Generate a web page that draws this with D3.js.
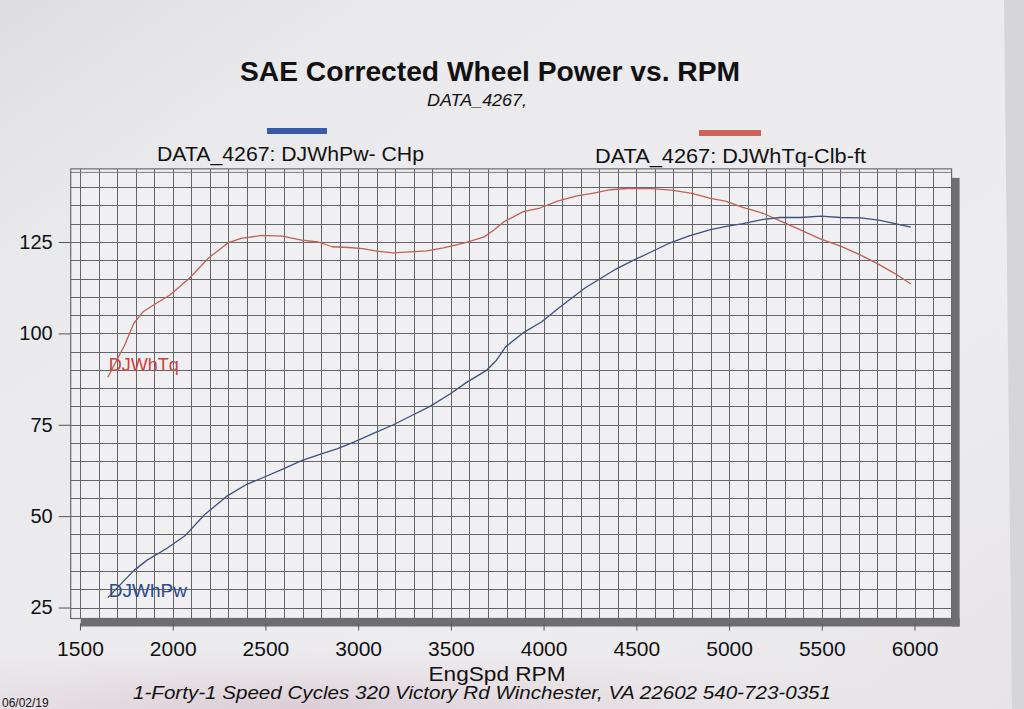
<!DOCTYPE html>
<html>
<head>
<meta charset="utf-8">
<script src="https://cdn.jsdelivr.net/npm/d3@7/dist/d3.min.js"></script>
<style>
  html, body { margin: 0; padding: 0; background: #e9e8ea; }
  svg { display: block; }
  text { font-family: "Liberation Sans", Arial, Helvetica, sans-serif; fill: #111; }
</style>
</head>
<body>
<svg id="chart" width="1024" height="709"></svg>
<script>
// ---------------- data ----------------
const title = "SAE Corrected Wheel Power vs. RPM";
const subtitle = "DATA_4267,";
const seriesNames = ["DATA_4267: DJWhPw- CHp", "DATA_4267: DJWhTq-Clb-ft"];
const curveLabels = ["DJWhPw", "DJWhTq"];
const xAxisTitle = "EngSpd  RPM";
const footer = "1-Forty-1 Speed Cycles 320 Victory Rd Winchester, VA 22602  540-723-0351";
const dateText = "06/02/19";

const xTicks = [1500, 2000, 2500, 3000, 3500, 4000, 4500, 5000, 5500, 6000];
const yTicks = [25, 50, 75, 100, 125];

// Wheel power (CHp)
const rpmPw = [1650, 1720, 1790, 1860, 1965, 2070, 2170, 2290, 2395, 2485, 2590, 2695, 2805, 2890, 2980,
  3085, 3190, 3300, 3390, 3495, 3585, 3690, 3745, 3795, 3885, 3990, 4080, 4225, 4300, 4390, 4480,
  4585, 4675, 4785, 4895, 4985, 5075, 5185, 5275, 5385, 5495, 5600, 5710, 5815, 5980];
const power = [27.7, 31.4, 35.1, 37.9, 41.1, 44.8, 50.3, 55.4, 58.6, 60.5, 62.8, 65.2, 67.1, 68.5, 70.3,
  72.7, 75.0, 77.8, 80.1, 83.4, 86.6, 89.8, 92.6, 96.3, 100.0, 103.2, 106.9, 112.5, 114.8, 117.6, 119.9,
  122.4, 124.6, 126.7, 128.3, 129.3, 130.0, 131.2, 131.7, 131.7, 132.1, 131.7, 131.6, 130.9, 129.1];

// Wheel torque (Clb-ft)
const rpmTq = [1650, 1740, 1790, 1840, 1895, 1985, 2090, 2195, 2300, 2370, 2480, 2590, 2695, 2785, 2860,
  2950, 3025, 3100, 3190, 3280, 3370, 3460, 3570, 3680, 3730, 3785, 3890, 3980, 4075, 4180, 4270, 4360,
  4470, 4580, 4690, 4800, 4895, 4985, 5075, 5185, 5275, 5385, 5495, 5605, 5710, 5800, 5890, 5980];
const torque = [88.0, 96.7, 102.7, 105.9, 107.7, 110.5, 115.1, 120.7, 124.8, 126.0, 126.8, 126.6, 125.5, 125.0, 123.7,
  123.5, 123.2, 122.5, 122.0, 122.3, 122.6, 123.4, 124.7, 126.4, 128.2, 130.5, 133.3, 134.3, 136.2, 137.6, 138.4, 139.3,
  139.7, 139.6, 139.2, 138.3, 137.0, 136.1, 134.5, 132.8, 130.8, 128.3, 125.8, 123.8, 121.4, 119.1, 116.5, 113.5];

const xDomain = [1450, 6200];
const yDomain = [22, 145];

// ---------------- layout ----------------
const svg = d3.select("#chart");
const W = 1024, H = 709;
const plot = { left: 70.7, right: 951.6, top: 168.9, bottom: 618.5 };

const x = d3.scaleLinear().domain(xDomain).range([plot.left, plot.right]);
const y = d3.scaleLinear().domain(yDomain).range([plot.bottom, plot.top]);

// background paper
const defs = svg.append("defs");
const bg = defs.append("linearGradient").attr("id", "paper").attr("x1", 0).attr("y1", 0).attr("x2", 1).attr("y2", 1);
bg.append("stop").attr("offset", "0%").attr("stop-color", "#dedde0");
bg.append("stop").attr("offset", "20%").attr("stop-color", "#eae9eb");
bg.append("stop").attr("offset", "70%").attr("stop-color", "#edecee");
bg.append("stop").attr("offset", "100%").attr("stop-color", "#e6e4e6");
svg.append("rect").attr("width", W).attr("height", H).attr("fill", "url(#paper)");
const pink = defs.append("radialGradient").attr("id", "pink")
  .attr("cx", 0.3).attr("cy", 1).attr("r", 0.6);
pink.append("stop").attr("offset", "0%").attr("stop-color", "#d9c8d2").attr("stop-opacity", 0.9);
pink.append("stop").attr("offset", "100%").attr("stop-color", "#e6dde2").attr("stop-opacity", 0);
svg.append("rect").attr("x", 0).attr("y", 600).attr("width", 1000).attr("height", 109).attr("fill", "url(#pink)");
// right edge of the sheet
svg.append("path").attr("d", "M1004,0 L1024,0 L1024,709 L1012,709 Z").attr("fill", "#d6d5d8");

// title & subtitle
svg.append("text").attr("x", 490).attr("y", 81).attr("text-anchor", "middle")
  .attr("font-size", 28).attr("font-weight", "bold")
  .attr("textLength", 500).attr("lengthAdjust", "spacingAndGlyphs").text(title);
svg.append("text").attr("x", 477).attr("y", 106).attr("text-anchor", "middle")
  .attr("font-size", 17).attr("font-style", "italic")
  .attr("textLength", 100).attr("lengthAdjust", "spacingAndGlyphs").text(subtitle);

// legend
const colors = ["#3a5aa6", "#d2625c"];
const lineColors = ["#3e5080", "#bf6256"];
const legend = [
  { sw: [267, 128, 60], tx: 157, ty: 161, tl: 267 },
  { sw: [699, 130, 62], tx: 595, ty: 163, tl: 271 }
];
legend.forEach((l, i) => {
  svg.append("rect").attr("x", l.sw[0]).attr("y", l.sw[1]).attr("width", l.sw[2]).attr("height", 6)
    .attr("fill", colors[i]);
  svg.append("text").attr("x", l.tx).attr("y", l.ty).attr("font-size", 20)
    .attr("textLength", l.tl).attr("lengthAdjust", "spacingAndGlyphs").text(seriesNames[i]);
});

// shadow
const sh = 8;
svg.append("rect").attr("x", plot.right).attr("y", plot.top + 9).attr("width", sh)
  .attr("height", plot.bottom - plot.top - 9 + sh).attr("fill", "#6e6e70");
svg.append("rect").attr("x", plot.left + 10).attr("y", plot.bottom).attr("width", plot.right - plot.left - 10 + sh)
  .attr("height", sh).attr("fill", "#6e6e70");

// plot face
svg.append("rect").attr("x", plot.left).attr("y", plot.top)
  .attr("width", plot.right - plot.left).attr("height", plot.bottom - plot.top)
  .attr("fill", "#f0eff1");

// grid
const gridX = d3.range(1500, 6101, 100);
const gridY = d3.range(25, 141, 5);
const grid = svg.append("g").attr("stroke", "#666668").attr("stroke-width", 1).attr("shape-rendering", "crispEdges");
grid.selectAll(".gx").data(gridX).join("line")
  .attr("x1", d => Math.round(x(d)) + 0.5).attr("x2", d => Math.round(x(d)) + 0.5)
  .attr("y1", plot.top).attr("y2", plot.bottom);
grid.selectAll(".gy").data(gridY).join("line")
  .attr("x1", plot.left).attr("x2", plot.right)
  .attr("y1", d => Math.round(y(d)) + 0.5).attr("y2", d => Math.round(y(d)) + 0.5);
svg.append("line").attr("x1", plot.left).attr("x2", plot.right)
  .attr("y1", plot.top + 3.5).attr("y2", plot.top + 3.5).attr("stroke", "#7a7a7c").attr("stroke-width", 1);
svg.append("rect").attr("x", plot.left).attr("y", plot.top)
  .attr("width", plot.right - plot.left).attr("height", plot.bottom - plot.top)
  .attr("fill", "none").attr("stroke", "#6a6a6c").attr("stroke-width", 1.2);

// axes
const yAxis = svg.append("g").attr("transform", `translate(${plot.left},0)`)
  .call(d3.axisLeft(y).tickValues(yTicks).tickSize(12).tickPadding(6).tickFormat(d3.format("d")));
yAxis.select(".domain").remove();
yAxis.selectAll("line").attr("stroke", "#555557");
yAxis.selectAll("text").attr("font-size", 20).attr("fill", "#111")
  .attr("font-family", "'Liberation Sans', Arial, sans-serif");

const xAxis = svg.append("g").attr("transform", `translate(0,${plot.bottom + 5})`)
  .call(d3.axisBottom(x).tickValues(xTicks).tickSize(7).tickPadding(11).tickFormat(d3.format("d")));
xAxis.select(".domain").remove();
xAxis.selectAll("line").attr("stroke", "#555557");
xAxis.selectAll("text").attr("font-size", 21).attr("fill", "#111")
  .attr("font-family", "'Liberation Sans', Arial, sans-serif");

// curves
const line = d3.line().x(d => x(d[0])).y(d => y(d[1]));
const pwData = rpmPw.map((r, i) => [r, power[i]]);
const tqData = rpmTq.map((r, i) => [r, torque[i]]);
svg.append("path").datum(tqData).attr("d", line).attr("fill", "none")
  .attr("stroke", lineColors[1]).attr("stroke-width", 1.3).attr("stroke-linejoin", "round");
svg.append("path").datum(pwData).attr("d", line).attr("fill", "none")
  .attr("stroke", lineColors[0]).attr("stroke-width", 1.3).attr("stroke-linejoin", "round");

// curve labels at the start of each curve
svg.append("text").attr("x", x(rpmTq[0]) + 1).attr("y", y(torque[0]) - 6)
  .attr("font-size", 18).style("fill", "#c8443c").text(curveLabels[1]);
svg.append("text").attr("x", x(rpmPw[0]) + 1).attr("y", y(power[0]) - 1)
  .attr("font-size", 19).style("fill", "#2c4a8c").text(curveLabels[0]);

// x axis title & footer
svg.append("text").attr("x", 497).attr("y", 681).attr("text-anchor", "middle")
  .attr("font-size", 20).attr("textLength", 137).attr("lengthAdjust", "spacingAndGlyphs").text(xAxisTitle);
svg.append("text").attr("x", 482).attr("y", 699).attr("text-anchor", "middle")
  .attr("font-size", 18).attr("font-style", "italic")
  .attr("textLength", 698).attr("lengthAdjust", "spacingAndGlyphs").text(footer);
svg.append("text").attr("x", 2).attr("y", 707).attr("font-size", 12).text(dateText);
</script>
</body>
</html>
